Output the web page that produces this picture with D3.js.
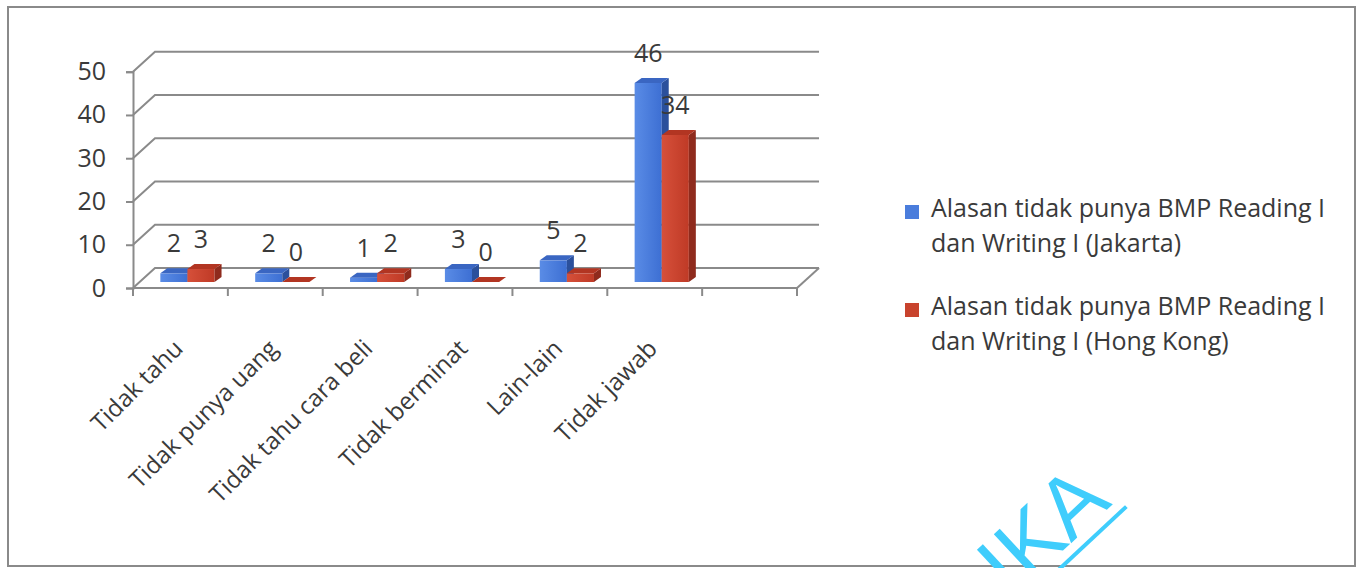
<!DOCTYPE html>
<html>
<head>
<meta charset="utf-8">
<script src="https://cdn.jsdelivr.net/npm/d3@7/dist/d3.min.js"></script>
<style>
  html, body { margin: 0; padding: 0; background: #ffffff; }
  svg { display: block; }
  text { font-family: "Open Sans", "Noto Sans", sans-serif; fill: #3a3a3a; }
</style>
</head>
<body>
<svg id="chart" width="1357" height="568"></svg>
<script>
// Categories (reasons) and values per location
const categories = ["Tidak tahu", "Tidak punya uang", "Tidak tahu cara beli", "Tidak berminat", "Lain-lain", "Tidak jawab"];
const jakarta = [2, 2, 1, 3, 5, 46];
const hongKong = [3, 0, 2, 0, 2, 34];
const seriesNames = [
  "Alasan tidak punya BMP Reading I dan Writing I (Jakarta)",
  "Alasan tidak punya BMP Reading I dan Writing I (Hong Kong)"
];
const yTicks = [0, 10, 20, 30, 40, 50];

const series = [
  { key: "jakarta", name: seriesNames[0], values: jakarta,
    front: ["#5a8ce6", "#3d6fd3"], side: "#2b509c", top: "#3a66c2" },
  { key: "hongKong", name: seriesNames[1], values: hongKong,
    front: ["#d6503a", "#bf3a26"], side: "#8f2b1d", top: "#b23522" }
];

const svg = d3.select("#chart");
const gridColor = "#8a8a8a";

// outer frame
svg.append("rect")
  .attr("x", 8).attr("y", 7).attr("width", 1347).attr("height", 559)
  .attr("fill", "#fff").attr("stroke", "#8a8a8a").attr("stroke-width", 2);

// plot geometry: front floor edge, wall depth, empty slot on the right
const x0 = 133, step = 94.86;
const slots = categories.length + 1;
const x = d3.scaleBand().domain(categories).range([x0, x0 + step * categories.length]);
const xEnd = x0 + step * slots;
const y = d3.scaleLinear().domain([0, 50]).range([288, 71.7]);
const wall = { dx: 22, dy: -20 };

const inner = d3.scaleBand().domain(series.map(s => s.key))
  .range([0, x.bandwidth()]).paddingInner(0).paddingOuter(0.75);
const barShift = { dx: 7, dy: -6 };   // bars sit a little into the floor
const barDepth = { dx: 7, dy: -5 };

// gridlines: side-wall diagonal from the front axis, then across the back wall
const grid = svg.append("g").attr("stroke", gridColor).attr("stroke-width", 2).attr("fill", "none");
yTicks.forEach(t => {
  grid.append("path")
    .attr("d", `M${x0},${y(t)} L${x0 + wall.dx},${y(t) + wall.dy} L${xEnd + wall.dx},${y(t) + wall.dy}`);
});
// floor right edge
grid.append("path").attr("d", `M${xEnd},${y(0)} L${xEnd + wall.dx},${y(0) + wall.dy}`);

// y axis
const yAxis = svg.append("g")
  .attr("transform", `translate(${x0},0)`)
  .call(d3.axisLeft(y).tickValues(yTicks).tickSize(7).tickPadding(20).tickFormat(d3.format("d")));
yAxis.select(".domain").attr("stroke", gridColor).attr("stroke-width", 2);
yAxis.selectAll(".tick line").attr("stroke", gridColor).attr("stroke-width", 2);
yAxis.selectAll(".tick text")
  .style("font-family", '"Open Sans", sans-serif').style("font-size", "25px").attr("fill", "#3a3a3a");

// x axis line with ticks at slot boundaries
const xAxis = svg.append("g").attr("stroke", gridColor).attr("stroke-width", 2);
xAxis.append("line").attr("x1", x0).attr("x2", xEnd).attr("y1", y(0)).attr("y2", y(0));
d3.range(slots + 1).forEach(i => {
  const xi = x0 + i * step;
  xAxis.append("line").attr("x1", xi).attr("x2", xi).attr("y1", y(0)).attr("y2", y(0) + 8);
});

// gradients for bar fronts
const defs = svg.append("defs");
series.forEach(s => {
  const g = defs.append("linearGradient").attr("id", "grad-" + s.key)
    .attr("x1", "0").attr("x2", "1").attr("y1", "0").attr("y2", "0");
  g.append("stop").attr("offset", "0%").attr("stop-color", s.front[0]);
  g.append("stop").attr("offset", "100%").attr("stop-color", s.front[1]);
});

// 3D columns
const bars = svg.append("g");
categories.forEach((c, i) => {
  series.forEach(s => {
    const v = s.values[i];
    const bx = x(c) + inner(s.key) + barShift.dx;
    const bw = inner.bandwidth();
    const base = y(0) + barShift.dy;
    const topY = y(v) + barShift.dy;
    const g = bars.append("g");
    // front face
    g.append("rect").attr("x", bx).attr("y", topY).attr("width", bw).attr("height", base - topY)
      .attr("fill", `url(#grad-${s.key})`);
    // side face
    g.append("polygon").attr("fill", s.side).attr("points", [
      [bx + bw, topY], [bx + bw + barDepth.dx, topY + barDepth.dy],
      [bx + bw + barDepth.dx, base + barDepth.dy], [bx + bw, base]
    ].map(p => p.join(",")).join(" "));
    // top face
    g.append("polygon").attr("fill", s.top).attr("points", [
      [bx, topY], [bx + barDepth.dx, topY + barDepth.dy],
      [bx + bw + barDepth.dx, topY + barDepth.dy], [bx + bw, topY]
    ].map(p => p.join(",")).join(" "));
  });
});

// value labels
const labels = svg.append("g");
categories.forEach((c, i) => {
  series.forEach(s => {
    const v = s.values[i];
    const cx = x(c) + inner(s.key) + barShift.dx + inner.bandwidth() / 2;
    labels.append("text")
      .attr("x", cx).attr("y", y(v) + barShift.dy - 21)
      .attr("text-anchor", "middle")
      .style("font-size", "25px")
      .text(v);
  });
});

// rotated category labels
svg.append("g").selectAll("text").data(categories).join("text")
  .attr("transform", d => `translate(${x(d) + x.bandwidth() / 2 + 4},${350}) rotate(-45)`)
  .attr("text-anchor", "end")
  .style("font-size", "24px")
  .text(d => d);

// legend
const legend = svg.append("g");
const legendColors = ["#4a7ddc", "#c8432d"];
series.forEach((s, k) => {
  const gy = 217 + k * 98;
  const parts = s.name.split(" dan ");
  legend.append("rect").attr("x", 905).attr("y", gy - 12).attr("width", 14).attr("height", 14)
    .attr("fill", legendColors[k]);
  const t = legend.append("text").attr("x", 931).attr("y", gy).style("font-size", "25px");
  t.append("tspan").attr("x", 931).attr("dy", 0).text(parts[0]);
  t.append("tspan").attr("x", 931).attr("dy", 35).text("dan " + parts[1]);
});

// cyan stamp text across the lower right
const stamp = svg.append("g").attr("transform", "translate(1113,504) rotate(-43)");
stamp.append("text")
  .attr("text-anchor", "end")
  .style("font-family", '"Liberation Sans", Arial, sans-serif')
  .style("font-size", "86px")
  .style("fill", "#3fcdfc")
  .text("IKA");
stamp.append("line")
  .attr("x1", -400).attr("x2", 8).attr("y1", 11).attr("y2", 11)
  .attr("stroke", "#3fcdfc").attr("stroke-width", 4);
</script>
</body>
</html>
